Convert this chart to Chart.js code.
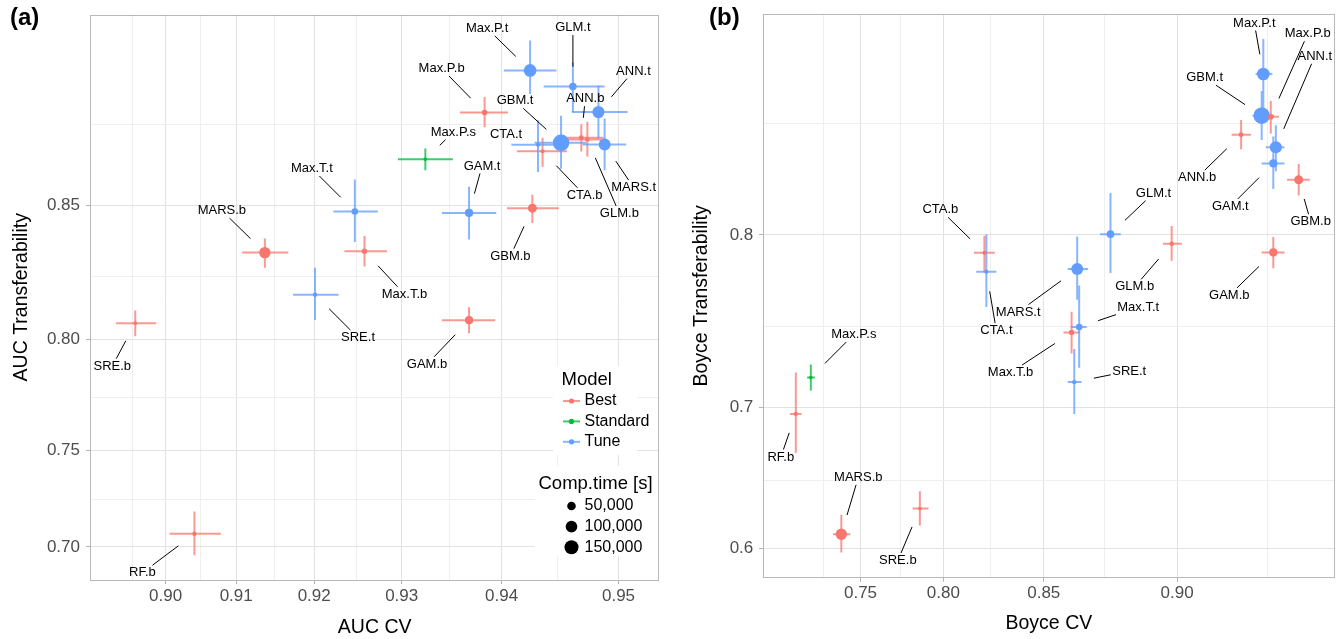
<!DOCTYPE html>
<html>
<head>
<meta charset="utf-8">
<script src="https://cdn.jsdelivr.net/npm/chart.js@4.4.1/dist/chart.umd.min.js"></script>
<style>
  html, body { margin: 0; padding: 0; background: #fff; }
  #wrap { position: relative; width: 1343px; height: 639px; }
  canvas { position: absolute; top: 0; }
  #chartA { left: 0; }
  #chartB { left: 672px; }
</style>
</head>
<body>
<div id="wrap">
  <canvas id="chartA" width="672" height="639"></canvas>
  <canvas id="chartB" width="671" height="639"></canvas>
</div>
<script>
// Model names: suffix .b = Best, .s = Standard, .t = Tune
const models = ['ANN.b', 'ANN.t', 'CTA.b', 'CTA.t', 'GAM.b', 'GAM.t', 'GBM.b', 'GBM.t', 'GLM.b', 'GLM.t',
                'MARS.b', 'MARS.t', 'Max.P.b', 'Max.P.s', 'Max.P.t', 'Max.T.b', 'Max.T.t', 'RF.b', 'SRE.b', 'SRE.t'];
const compTime = [13000, 110000, 8000, 8000, 45000, 45000, 55000, 215000, 10000, 38000,
                  95000, 105000, 18000, 5000, 120000, 16000, 27000, 9000, 6000, 9000];

// (a) AUC: cross-validation vs transferability, with lower/upper bars
const aucCV      = [0.9470, 0.9484, 0.9437, 0.9433, 0.9369, 0.9369, 0.9428, 0.9453, 0.9475, 0.9463,
                    0.9138, 0.9489, 0.9384, 0.9325, 0.9426, 0.9259, 0.9248, 0.9042, 0.8954, 0.9201];
const aucCVLow   = [0.9452, 0.9462, 0.9414, 0.9409, 0.9342, 0.9342, 0.9405, 0.9430, 0.9452, 0.9438,
                    0.9108, 0.9471, 0.9360, 0.9296, 0.9402, 0.9236, 0.9223, 0.9006, 0.8924, 0.9174];
const aucCVHigh  = [0.9488, 0.9507, 0.9458, 0.9457, 0.9394, 0.9395, 0.9451, 0.9474, 0.9490, 0.9489,
                    0.9168, 0.9506, 0.9406, 0.9353, 0.9449, 0.9284, 0.9274, 0.9079, 0.8986, 0.9229];
const aucTr      = [0.8711, 0.8784, 0.8671, 0.8690, 0.8079, 0.8475, 0.8491, 0.8696, 0.8706, 0.8853,
                    0.8337, 0.8691, 0.8783, 0.8647, 0.8895, 0.8342, 0.8480, 0.7071, 0.8067, 0.8180];
const aucTrLow   = [0.8670, 0.8709, 0.8624, 0.8608, 0.8026, 0.8384, 0.8441, 0.8618, 0.8655, 0.8784,
                    0.8282, 0.8613, 0.8741, 0.8613, 0.8833, 0.8286, 0.8375, 0.6954, 0.8013, 0.8080];
const aucTrHigh  = [0.8750, 0.8855, 0.8711, 0.8761, 0.8131, 0.8561, 0.8535, 0.8774, 0.8757, 0.8915,
                    0.8387, 0.8766, 0.8825, 0.8679, 0.8969, 0.8396, 0.8584, 0.7189, 0.8118, 0.8282];

// (b) Boyce index: cross-validation vs transferability
const boyceCV     = [0.9183, 0.9269, 0.8218, 0.8228, 0.9263, 0.9263, 0.9321, 0.9235, 0.8983, 0.8772,
                     0.7373, 0.8642, 0.9257, 0.7163, 0.9239, 0.8619, 0.8650, 0.7056, 0.7866, 0.8630];
const boyceCVLow  = [0.9158, 0.9245, 0.8164, 0.8176, 0.9235, 0.9235, 0.9295, 0.9212, 0.8955, 0.8732,
                     0.7317, 0.8603, 0.9237, 0.7137, 0.9220, 0.8585, 0.8617, 0.7013, 0.7823, 0.8603];
const boyceCVHigh = [0.9208, 0.9289, 0.8270, 0.8278, 0.9289, 0.9289, 0.9345, 0.9265, 0.9015, 0.8810,
                     0.7433, 0.8686, 0.9276, 0.7191, 0.9261, 0.8654, 0.8680, 0.7097, 0.7916, 0.8660];
const boyceTr     = [0.8455, 0.8403, 0.7909, 0.7810, 0.7911, 0.8334, 0.8262, 0.8531, 0.7955, 0.8004,
                     0.6107, 0.7824, 0.8527, 0.7192, 0.8687, 0.7467, 0.7499, 0.6956, 0.6297, 0.7163];
const boyceTrLow  = [0.8395, 0.8300, 0.7806, 0.7615, 0.7828, 0.8220, 0.8190, 0.8433, 0.7868, 0.7803,
                     0.5971, 0.7656, 0.8460, 0.7110, 0.8559, 0.7341, 0.7254, 0.6694, 0.6173, 0.6956];
const boyceTrHigh = [0.8514, 0.8493, 0.7996, 0.8003, 0.7990, 0.8448, 0.8331, 0.8625, 0.8044, 0.8202,
                     0.6251, 0.7992, 0.8588, 0.7274, 0.8807, 0.7588, 0.7735, 0.7223, 0.6421, 0.7368];

const groupNames = ['Best', 'Standard', 'Tune'];
const sizeBreaks = [50000, 100000, 150000];

// tick values (axes are logit transformed)
const aucXMajor = [0.90, 0.91, 0.92, 0.93, 0.94, 0.95];
const aucXMinor = [0.895, 0.905, 0.915, 0.925, 0.935, 0.945];
const aucYMajor = [0.70, 0.75, 0.80, 0.85];
const aucYMinor = [0.725, 0.775, 0.825, 0.875];
const boyceXMajor = [0.75, 0.80, 0.85, 0.90];
const boyceXMinor = [0.725, 0.775, 0.825, 0.875, 0.925];
const boyceYMajor = [0.6, 0.7, 0.8];
const boyceYMinor = [0.65, 0.75, 0.85];

// label placement (pixel offsets from the point, like ggrepel output)
const nudgeA = {
  'Max.P.t': [-43, -42], 'GLM.t': [0, -59], 'ANN.t': [35, -41], 'Max.P.b': [-43, -44], 'GBM.t': [-46, -42],
  'ANN.b': [4, -39], 'Max.P.s': [28, -27], 'CTA.t': [-32, -10], 'GAM.t': [13, -47], 'CTA.b': [42, 44],
  'MARS.t': [29, 43], 'GLM.b': [32, 74], 'GBM.b': [-22, 48], 'GAM.b': [-42, 44], 'Max.T.t': [-43, -43],
  'MARS.b': [-43, -42], 'Max.T.b': [40, 43], 'SRE.t': [43, 43], 'SRE.b': [-23, 43], 'RF.b': [-52, 39]
};
const nudgeB = {
  'Max.P.t': [-9, -51], 'Max.P.b': [37, -83], 'ANN.t': [39, -91], 'GBM.t': [-57, -38], 'ANN.b': [-44, 43],
  'GAM.t': [-43, 43], 'GBM.b': [12, 42], 'GLM.t': [43, -41], 'CTA.b': [-44, -43], 'CTA.t': [10, 59],
  'MARS.t': [-59, 43], 'GLM.b': [-37, 43], 'Max.T.t': [59, -20], 'Max.T.b': [-61, 40], 'SRE.t': [55, -11],
  'Max.P.s': [43, -43], 'RF.b': [-15, 43], 'MARS.b': [17, -57], 'SRE.b': [-22, 52], 'GAM.b': [-44, 43]
};

const COLORS = ['#F8766D', '#00BA38', '#619CFF'];
const BAR_COLORS = ['rgba(248,118,109,0.75)', 'rgba(0,186,56,0.75)', 'rgba(97,156,255,0.75)'];
const FONT = "'Liberation Sans', Arial, Helvetica, sans-serif";

Chart.defaults.font.family = FONT;

const logit = p => Math.log(p / (1 - p));
const groupOf = m => ({ b: 0, s: 1, t: 2 })[m.slice(-1)];
const radiusFor = t => 0.6 + 0.0165 * Math.sqrt(t);

function logitTicks(major, minor, digits) {
  return major.map(v => ({ value: logit(v), label: v.toFixed(digits), minor: false }))
    .concat(minor.map(v => ({ value: logit(v), label: '', minor: true })))
    .sort((a, b) => a.value - b.value);
}

function axis(o) {
  return {
    type: 'linear',
    position: o.position,
    bounds: 'data',
    min: logit(o.lim[0]),
    max: logit(o.lim[1]),
    afterBuildTicks: s => { s.ticks = logitTicks(o.major, o.minor, o.digits); },
    afterFit: s => { if (o.position === 'bottom') s.height = o.size; else s.width = o.size; },
    ticks: {
      autoSkip: false, maxRotation: 0, minRotation: 0,
      callback: (v, i, ts) => ts[i].label,
      color: '#4d4d4d',
      font: { size: 17, lineHeight: 1 },
      padding: o.tickPad
    },
    grid: {
      color: c => (c.tick && c.tick.minor) ? '#efefef' : '#e2e2e2',
      lineWidth: 1,
      drawTicks: true,
      tickLength: 4,
      tickColor: c => (c.tick && c.tick.minor) ? 'rgba(0,0,0,0)' : '#b3b3b3'
    },
    border: { display: false },
    title: {
      display: true, text: o.title, color: '#000',
      font: { size: 19.5, lineHeight: 1.2 },
      padding: o.position === 'bottom' ? { top: 0, bottom: o.titlePad } : { top: o.titlePad, bottom: 0 }
    }
  };
}

function drawLegend(ctx) {
  ctx.save();
  ctx.fillStyle = '#fff';
  ctx.fillRect(553, 366, 84, 89);
  ctx.fillRect(535, 466, 123, 90);
  ctx.fillStyle = '#000';
  ctx.textAlign = 'left';
  ctx.textBaseline = 'middle';
  ctx.font = '18.5px ' + FONT;
  ctx.fillText('Model', 561.5, 380);
  groupNames.forEach((g, i) => {
    const y = 401 + i * 20.4;
    ctx.strokeStyle = BAR_COLORS[i];
    ctx.lineWidth = 2;
    ctx.beginPath(); ctx.moveTo(563, y); ctx.lineTo(580, y); ctx.stroke();
    ctx.fillStyle = COLORS[i];
    ctx.beginPath(); ctx.arc(571.5, y, 2.6, 0, Math.PI * 2); ctx.fill();
    ctx.fillStyle = '#000';
    ctx.font = '16px ' + FONT;
    ctx.fillText(g, 584.5, y);
  });
  ctx.font = '18.5px ' + FONT;
  ctx.fillText('Comp.time [s]', 538.5, 484);
  sizeBreaks.forEach((v, i) => {
    const y = 506 + i * 20.6;
    ctx.beginPath(); ctx.arc(571.5, y, radiusFor(v), 0, Math.PI * 2); ctx.fill();
    ctx.font = '16px ' + FONT;
    ctx.fillText(v.toLocaleString('en-US'), 584.5, y);
  });
  ctx.restore();
}

function makePanel(o) {
  const canvas = document.getElementById(o.canvas);
  const W = canvas.width, H = canvas.height;

  const datasets = groupNames.map((g, gi) => {
    const idx = models.map((m, i) => i).filter(i => groupOf(models[i]) === gi);
    return {
      label: g,
      data: idx.map(i => ({ x: logit(o.cv[i]), y: logit(o.tr[i]) })),
      pointRadius: idx.map(i => radiusFor(compTime[i])),
      pointBackgroundColor: COLORS[gi],
      pointBorderWidth: 0,
      showLine: false
    };
  });

  const errorBars = {
    id: 'errorBars',
    beforeDatasetsDraw(chart) {
      const { ctx, chartArea: a, scales: { x, y } } = chart;
      ctx.save();
      ctx.beginPath(); ctx.rect(a.left, a.top, a.right - a.left, a.bottom - a.top); ctx.clip();
      ctx.lineWidth = 2;
      models.forEach((m, i) => {
        const px = x.getPixelForValue(logit(o.cv[i]));
        const py = y.getPixelForValue(logit(o.tr[i]));
        ctx.strokeStyle = BAR_COLORS[groupOf(m)];
        ctx.beginPath();
        ctx.moveTo(x.getPixelForValue(logit(o.cvLo[i])), py);
        ctx.lineTo(x.getPixelForValue(logit(o.cvHi[i])), py);
        ctx.moveTo(px, y.getPixelForValue(logit(o.trLo[i])));
        ctx.lineTo(px, y.getPixelForValue(logit(o.trHi[i])));
        ctx.stroke();
      });
      ctx.restore();
    }
  };

  const repelLabels = {
    id: 'repelLabels',
    afterDatasetsDraw(chart) {
      const { ctx, scales: { x, y } } = chart;
      ctx.save();
      ctx.font = '13px ' + FONT;
      ctx.textAlign = 'center';
      ctx.textBaseline = 'middle';
      models.forEach((m, i) => {
        const px = x.getPixelForValue(logit(o.cv[i]));
        const py = y.getPixelForValue(logit(o.tr[i]));
        const [dx, dy] = o.nudge[m];
        const lx = px + dx, ly = py + dy;
        const d = Math.hypot(dx, dy);
        const ux = dx / d, uy = dy / d;
        const hw = ctx.measureText(m).width / 2 + 1.5, hh = 7.5;
        const tEdge = Math.min(ux ? hw / Math.abs(ux) : Infinity, uy ? hh / Math.abs(uy) : Infinity);
        const gap = 20;
        if (d - tEdge - gap > 2) {
          ctx.strokeStyle = '#000';
          ctx.lineWidth = 1;
          ctx.beginPath();
          ctx.moveTo(px + ux * gap, py + uy * gap);
          ctx.lineTo(px + ux * (d - tEdge), py + uy * (d - tEdge));
          ctx.stroke();
        }
        ctx.fillStyle = '#000';
        ctx.fillText(m, lx, ly);
      });
      ctx.restore();
    }
  };

  const frame = {
    id: 'frame',
    afterDraw(chart) {
      const { ctx, chartArea: a } = chart;
      ctx.save();
      if (o.legend) drawLegend(ctx);
      ctx.strokeStyle = '#b8b8b8';
      ctx.lineWidth = 1;
      ctx.strokeRect(Math.round(a.left) + 0.5, Math.round(a.top) + 0.5,
                     Math.round(a.right - a.left) - 1, Math.round(a.bottom - a.top) - 1);
      ctx.fillStyle = '#000';
      ctx.font = 'bold 24px ' + FONT;
      ctx.textAlign = 'left';
      ctx.textBaseline = 'middle';
      ctx.fillText(o.tag, o.tagX, 18);
      ctx.restore();
    }
  };

  return new Chart(canvas, {
    type: 'scatter',
    data: { datasets },
    options: {
      responsive: false,
      animation: false,
      devicePixelRatio: 1,
      events: [],
      layout: { padding: { left: 0, top: o.box.top, right: W - o.box.right, bottom: 0 } },
      plugins: { legend: { display: false }, tooltip: { enabled: false } },
      scales: {
        x: axis({ position: 'bottom', lim: o.xLim, major: o.xMajor, minor: o.xMinor, digits: 2,
                  size: H - o.box.bottom, tickPad: o.xTickPad, title: o.xTitle, titlePad: o.xTitlePad }),
        y: axis({ position: 'left', lim: o.yLim, major: o.yMajor, minor: o.yMinor, digits: o.yDigits,
                  size: o.box.left, tickPad: o.yTickPad, title: o.yTitle, titlePad: o.yTitlePad })
      }
    },
    plugins: [errorBars, repelLabels, frame]
  });
}

makePanel({
  canvas: 'chartA', tag: '(a)', tagX: 10, legend: true,
  cv: aucCV, cvLo: aucCVLow, cvHi: aucCVHigh, tr: aucTr, trLo: aucTrLow, trHi: aucTrHigh,
  xLim: [0.8882, 0.9531], yLim: [0.6816, 0.9030],
  xMajor: aucXMajor, xMinor: aucXMinor, yMajor: aucYMajor, yMinor: aucYMinor, yDigits: 2,
  xTitle: 'AUC CV', yTitle: 'AUC Transferability',
  box: { left: 90, top: 10, right: 659.3, bottom: 580 },
  xTickPad: 4.2, yTickPad: 6, xTitlePad: 0, yTitlePad: 10.3,
  nudge: nudgeA
});

makePanel({
  canvas: 'chartB', tag: '(b)', tagX: 37, legend: false,
  cv: boyceCV, cvLo: boyceCVLow, cvHi: boyceCVHigh, tr: boyceTr, trLo: boyceTrLow, trHi: boyceTrHigh,
  xLim: [0.6814, 0.9396], yLim: [0.5780, 0.8886],
  xMajor: boyceXMajor, xMinor: boyceXMinor, yMajor: boyceYMajor, yMinor: boyceYMinor, yDigits: 1,
  xTitle: 'Boyce CV', yTitle: 'Boyce Transferability',
  box: { left: 91, top: 10, right: 666, bottom: 577.7 },
  xTickPad: 3.1, yTickPad: 5.7, xTitlePad: 3.3, yTitlePad: 18.3,
  nudge: nudgeB
});
</script>
</body>
</html>
